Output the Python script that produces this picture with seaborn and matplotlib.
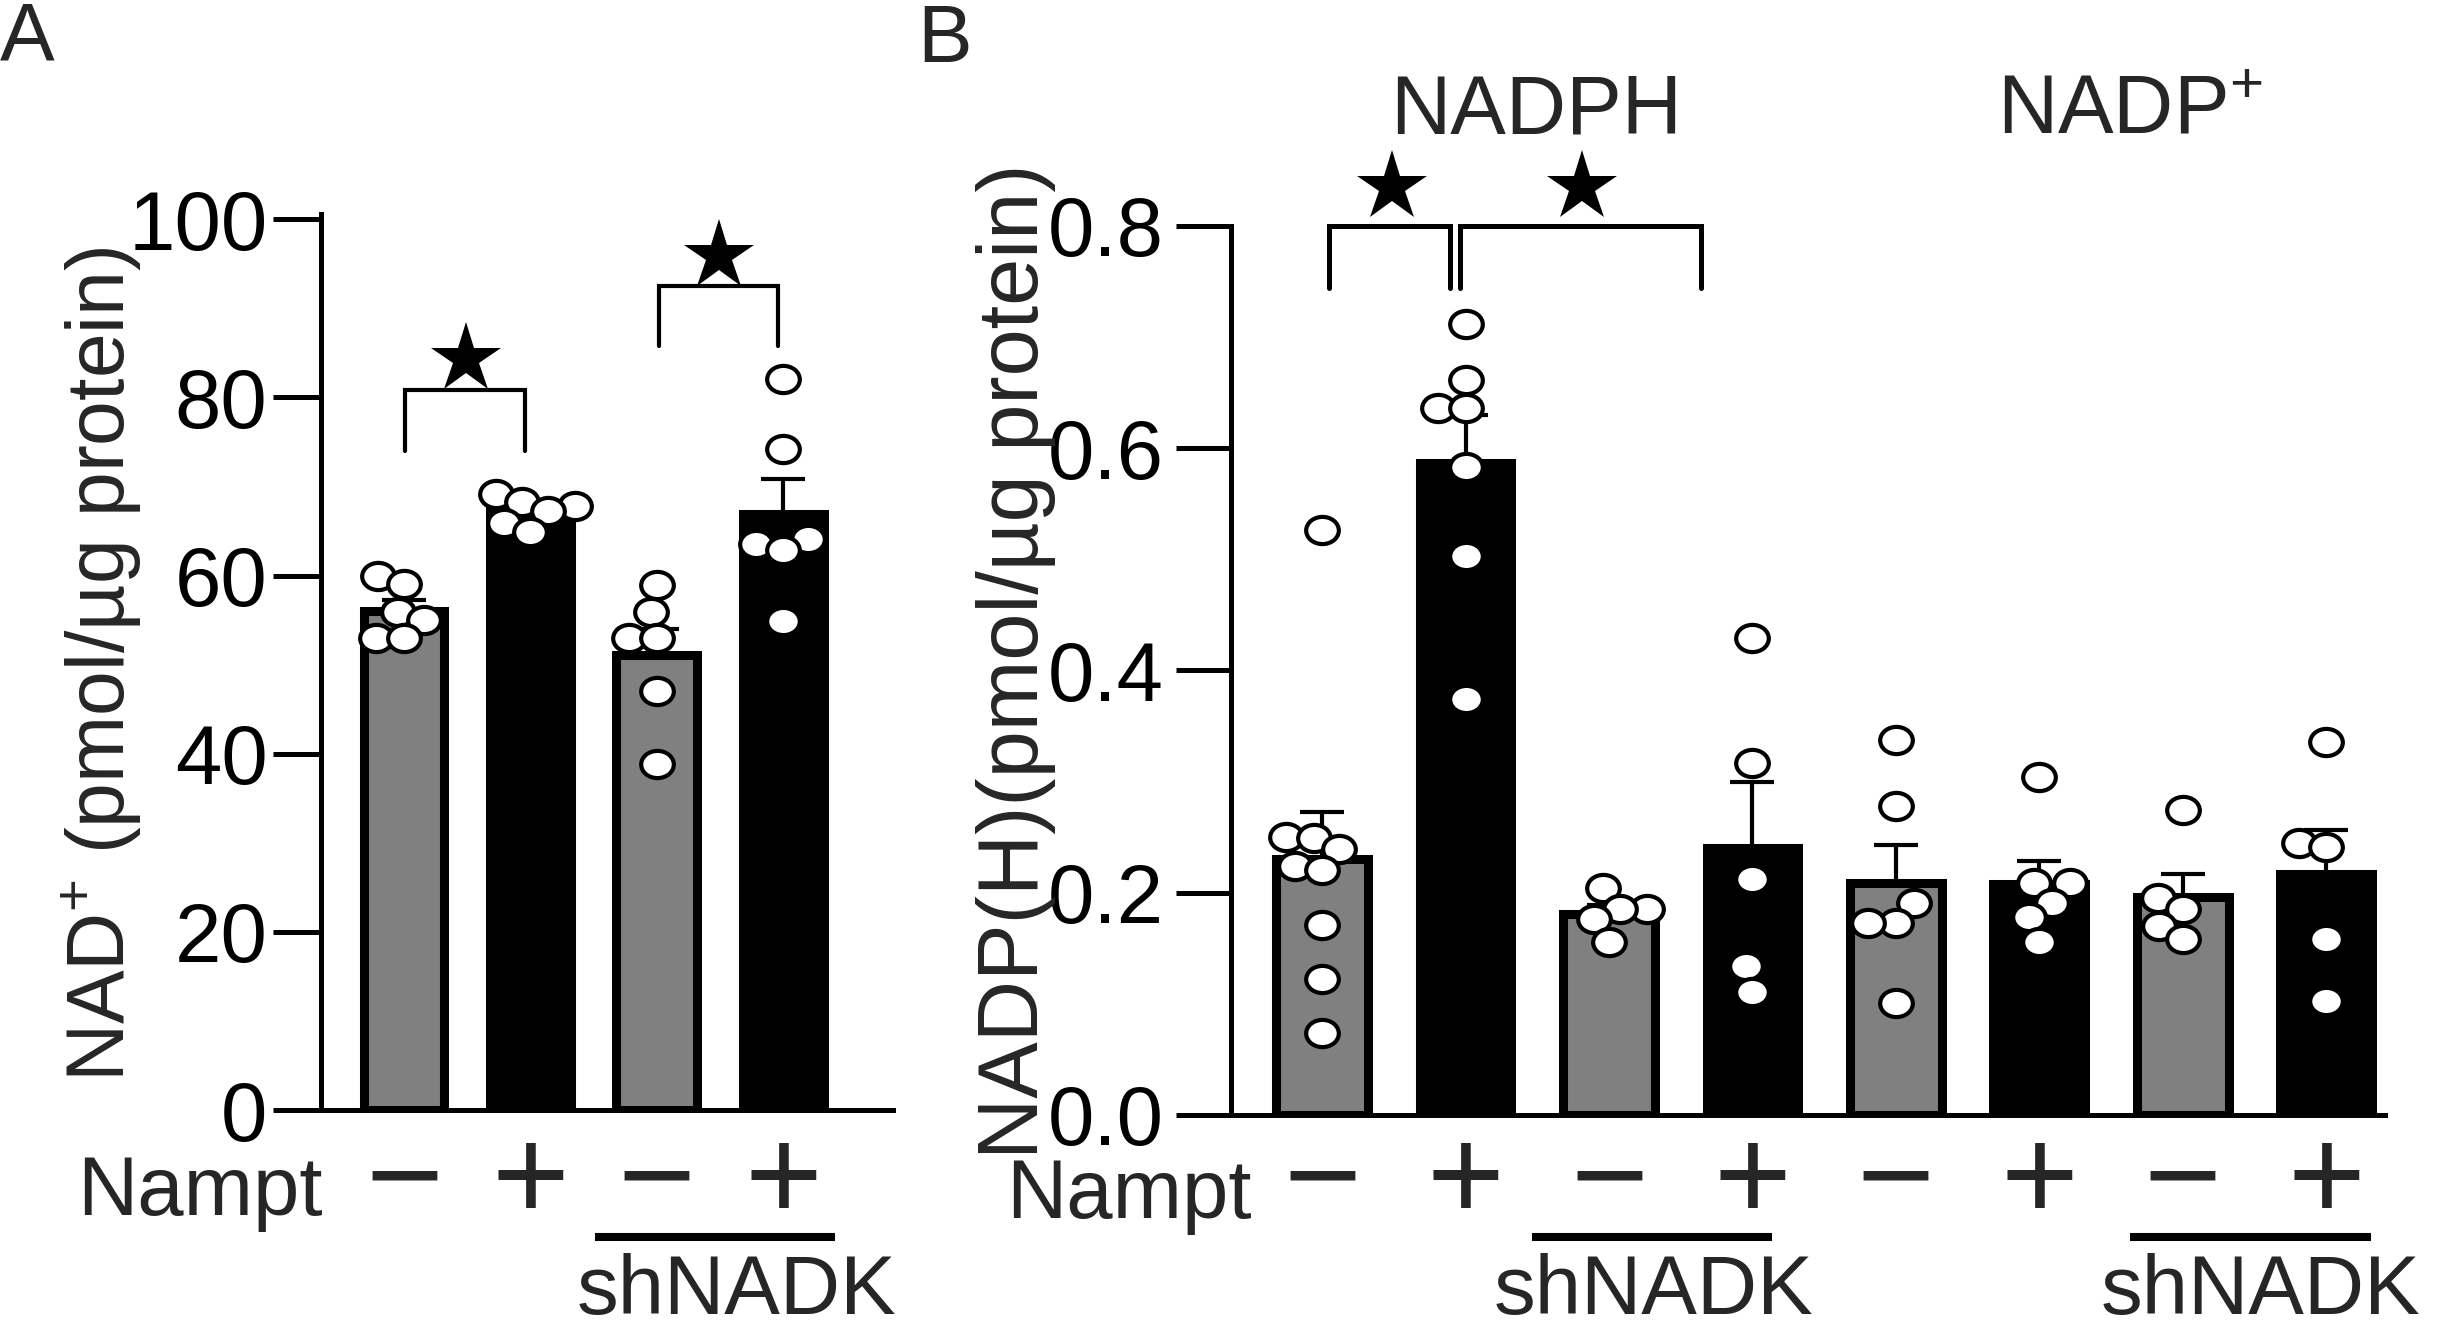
import warnings
warnings.filterwarnings("ignore")
import matplotlib
matplotlib.use("Agg")
import matplotlib.pyplot as plt
import matplotlib.transforms as mtransforms
from matplotlib.collections import PathCollection
from matplotlib.path import Path
from matplotlib.markers import MarkerStyle
import numpy as np
import pandas as pd
import seaborn as sns

# ---------------- data ----------------
a_groups = ["ctrl", "Nampt", "shNADK", "shNADK+Nampt"]
a_signs = ["\u2212", "+", "\u2212", "+"]
a_ctrl = [60.0, 59.1, 55.9, 55.0, 53.0, 53.0]
a_nampt = [69.2, 68.3, 67.8, 67.2, 65.9, 64.9]
a_sh = [58.9, 55.9, 53.0, 53.0, 47.0, 38.9]
a_sh_nampt = [82.1, 74.2, 64.1, 63.5, 62.9, 54.9]
a_yticks = [0, 20, 40, 60, 80, 100]
a_ylabel = "NAD$^{+}$ (pmol/\u00b5g protein)"

b_groups = ["NADPH ctrl", "NADPH Nampt", "NADPH shNADK", "NADPH shNADK+Nampt",
            "NADP+ ctrl", "NADP+ Nampt", "NADP+ shNADK", "NADP+ shNADK+Nampt"]
b_signs = ["\u2212", "+", "\u2212", "+", "\u2212", "+", "\u2212", "+"]
b_nadph_ctrl = [0.526, 0.250, 0.249, 0.239, 0.224, 0.220, 0.171, 0.122, 0.074]
b_nadph_nampt = [0.712, 0.661, 0.636, 0.636, 0.583, 0.503, 0.374]
b_nadph_sh = [0.204, 0.185, 0.185, 0.176, 0.156]
b_nadph_sh_nampt = [0.429, 0.317, 0.212, 0.134, 0.111]
b_nadp_ctrl = [0.337, 0.278, 0.191, 0.173, 0.173, 0.101]
b_nadp_nampt = [0.304, 0.209, 0.209, 0.191, 0.178, 0.156]
b_nadp_sh = [0.274, 0.195, 0.185, 0.170, 0.158]
b_nadp_sh_nampt = [0.336, 0.245, 0.241, 0.158, 0.103]
b_yticks = [0.0, 0.2, 0.4, 0.6, 0.8]
b_yticklabels = ["0.0", "0.2", "0.4", "0.6", "0.8"]
b_ylabel = "NADP(H)(pmol/\u00b5g protein)"
b_headers = ["NADPH", "NADP$^{+}$"]
row_label = "Nampt"
sh_label = "shNADK"

GRAY = "#808080"
a_colors = [GRAY, "black", GRAY, "black"]
b_colors = [GRAY, "black"] * 4

# ---------------- style ----------------
sns.set_style("white")
plt.rcParams["font.family"] = ["Liberation Sans", "DejaVu Sans"]
plt.rcParams["mathtext.fontset"] = "custom"
plt.rcParams["mathtext.rm"] = "Liberation Sans"
plt.rcParams["mathtext.it"] = "Liberation Sans:italic"
plt.rcParams["mathtext.bf"] = "Liberation Sans:bold"
plt.rcParams["mathtext.default"] = "regular"

W, H = 2437, 1331
fig = plt.figure(figsize=(W / 100, H / 100), dpi=100)

def fx(px):
    return px / W

def fy(py):
    return (H - py) / H

axA = fig.add_axes([fx(321), fy(1110), fx(893 - 321), (1110 - 214) / H])
axB = fig.add_axes([fx(1231), fy(1115), fx(2385 - 1231), (1115 - 225.8) / H])

# slightly wide elliptical marker, as in the reference
ellipse = MarkerStyle(Path.unit_circle().transformed(
    mtransforms.Affine2D().scale(1.2, 1.0)))


def panel(ax, groups, values, colors, tick_len):
    df = pd.DataFrame({"grp": np.repeat(groups, [len(v) for v in values]),
                       "val": np.concatenate(values)})
    sns.barplot(data=df, x="grp", y="val", hue="grp", order=groups,
                hue_order=groups, palette=colors, errorbar=None, width=0.64,
                linewidth=6.5, edgecolor="black", legend=False, ax=ax,
                zorder=1)
    stats = df.groupby("grp", sort=False)["val"].agg(["mean", "sem"]).reindex(groups)
    n = len(groups)
    ax.errorbar(np.arange(n), stats["mean"].values,
                yerr=[np.zeros(n), stats["sem"].values], fmt="none",
                ecolor="black", elinewidth=3, capsize=15.5, capthick=3,
                zorder=2.5)
    sns.swarmplot(data=df, x="grp", y="val", order=groups, color="white",
                  edgecolor="black", linewidth=3, size=16, marker=ellipse,
                  ax=ax, zorder=3)
    ax.set_xlabel("")
    ax.set_ylabel("")
    for s in ["top", "right"]:
        ax.spines[s].set_visible(False)
    for s in ["left", "bottom"]:
        ax.spines[s].set_linewidth(3.6)
        ax.spines[s].set_color("black")
    ax.tick_params(axis="y", length=tick_len, width=3.6, labelsize=60,
                   colors="black", direction="out", left=True)
    ax.tick_params(axis="x", length=0, labelbottom=False)


panel(axA, a_groups, [a_ctrl, a_nampt, a_sh, a_sh_nampt], a_colors, 34.6)
axA.set_xlim(-0.657, 3.87)
axA.set_ylim(0, 100.6)
axA.set_yticks(a_yticks)
axA.tick_params(axis="y", pad=4)

panel(axB, b_groups, [b_nadph_ctrl, b_nadph_nampt, b_nadph_sh, b_nadph_sh_nampt,
                      b_nadp_ctrl, b_nadp_nampt, b_nadp_sh, b_nadp_sh_nampt],
      b_colors, 39.6)
axB.set_xlim(-0.635, 7.41)
axB.set_ylim(0, 0.8)
axB.set_yticks(b_yticks)
axB.set_yticklabels(b_yticklabels)
axB.tick_params(axis="y", pad=9)


def bracket(ax, x1, x2, ytop, ybot, sx, sy, lw):
    ax.plot([x1, x1, x2, x2], [ybot, ytop, ytop, ybot], color="black", lw=lw,
            solid_joinstyle="miter", clip_on=False, zorder=4)
    ax.plot([sx], [sy], marker="*", ms=53, color="black", mew=0,
            clip_on=False, zorder=4)


bracket(axA, 0.01, 0.96, 80.8, 74.0, 0.487, 84.3, 3.0)
bracket(axA, 2.015, 2.96, 92.5, 85.8, 2.49, 95.9, 3.0)
bracket(axB, 0.05, 0.89, 0.80, 0.744, 0.49, 0.835, 3.6)
bracket(axB, 0.96, 2.64, 0.80, 0.744, 1.81, 0.835, 3.6)

# condition rows
for ax, signs, sh_spans, sh_centers, nampt_right, nampt_base in [
        (axA, a_signs, [(1.51, 3.41)], [2.63], 323, 1215),
        (axB, b_signs, [(1.46, 3.14), (5.63, 7.31)], [2.31, 6.54], 1252, 1218)]:
    tr = mtransforms.blended_transform_factory(ax.transData, fig.transFigure)
    for i, s in enumerate(signs):
        ax.text(i, fy(1219.5), s, transform=tr, ha="center", va="baseline",
                fontsize=96, clip_on=False)
    for (x1, x2), xc in zip(sh_spans, sh_centers):
        ax.plot([x1, x2], [fy(1236.7)] * 2, transform=tr, color="black",
                lw=5.8, solid_capstyle="butt", clip_on=False)
        ax.text(xc, fy(1314), sh_label, transform=tr, ha="center",
                va="baseline", fontsize=60, clip_on=False)
    fig.text(fx(nampt_right), fy(nampt_base), row_label, ha="right",
             va="baseline", fontsize=60)

# headers over panel B
trB = mtransforms.blended_transform_factory(axB.transData, fig.transFigure)
axB.text(1.49, fy(133), b_headers[0], transform=trB, ha="center",
         va="baseline", fontsize=60, clip_on=False)
axB.text(5.63, fy(133), b_headers[1], transform=trB, ha="center",
         va="baseline", fontsize=60, clip_on=False)

# y labels
fig.text(fx(101), fy(664), a_ylabel, rotation=90, ha="center", va="center",
         fontsize=58)
fig.text(fx(1016), fy(661), b_ylabel, rotation=90, ha="center", va="center",
         fontsize=61)

# panel letters
fig.text(fx(0), fy(59), "A", ha="left", va="baseline", fontsize=59)
fig.text(fx(917), fy(62), "B", ha="left", va="baseline", fontsize=59)

# seaborn lays out the swarm with compact markers; the laid-out points are then
# drawn with the larger, partly overlapping markers seen in the reference
fig.canvas.draw()
for ax in (axA, axB):
    for coll in list(ax.collections):
        if isinstance(coll, PathCollection):
            xy = np.asarray(coll.get_offsets())
            coll.remove()
            ax.scatter(xy[:, 0], xy[:, 1], s=23.5 ** 2, marker=ellipse,
                       facecolor="white", edgecolor="black", linewidths=3,
                       zorder=3)

fig.savefig("out.png", dpi=100)
